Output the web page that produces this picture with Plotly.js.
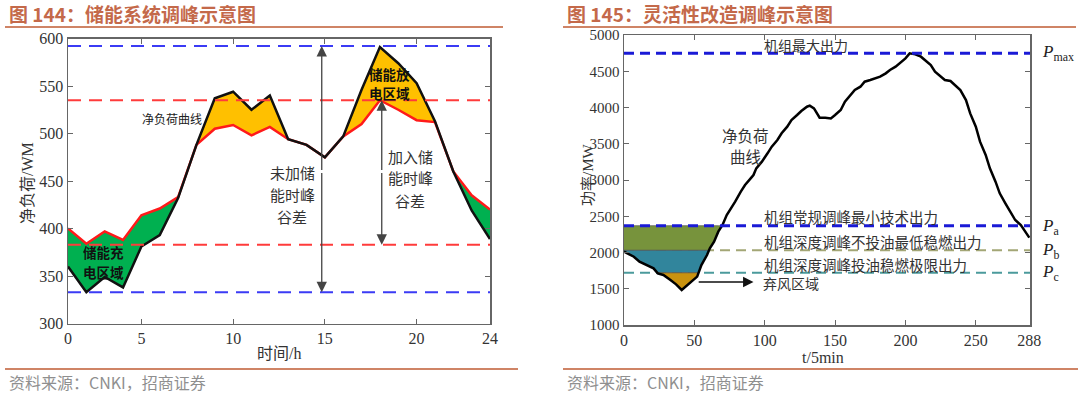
<!DOCTYPE html>
<html><head><meta charset="utf-8">
<script src="https://cdn.plot.ly/plotly-3.0.1.min.js"></script>
<style>html,body{margin:0;padding:0;background:#fff}#chart{width:1080px;height:393px}</style>
</head><body><div id="chart"></div>
<script>
// ---------- Figure 144 data (hourly) ----------
const hours = [1,2,3,4,5,6,7,8,9,10,11,12,13,14,15,16,17,18,19,20,21,22,23,24];
const hourTickVals = [1,5,10,15,20,24];
const hourTickText = ['0','5','10','15','20','24'];
const netLoad = [360,333,349,338,381,393,432,488,537,544,525,540,494,488,475,497,546,591,574,553,513,460,419,389];
const loadWithStorage = [400,384,397,388,414,421,433,488,505,509,498,507,494,488,475,497,510,535,525,514,512,460,435,420];
const peakNoStorage = 592, valleyNoStorage = 333;
const peakWithStorage = 535, valleyWithStorage = 383;

// ---------- Figure 145 data (5-min steps) ----------
const t5 = [0,7,11,16,21,24,28,33,37,41,45,48,52,55,59,61,64,67,70,73,77,79,83,86,90,92,94,98,102,105,109,112,116,119,123,126,130,132,135,137,139,143,147,150,154,157,161,164,168,171,175,179,182,186,189,193,196,200,203,207,211,214,218,221,225,228,232,235,239,243,246,250,253,257,260,264,267,271,275,278,282,285,288];
const netLoad2 = [2011,1942,1873,1827,1781,1712,1690,1620,1561,1483,1551,1597,1667,1827,1965,2057,2149,2287,2379,2517,2632,2701,2839,2931,3023,3069,3161,3253,3368,3460,3552,3644,3736,3828,3897,3952,4011,4025,3988,3920,3860,3860,3850,3896,3965,4080,4172,4241,4287,4356,4379,4402,4425,4471,4517,4563,4609,4678,4747,4733,4701,4655,4586,4494,4425,4379,4365,4310,4241,4103,3919,3736,3529,3345,3161,2977,2816,2678,2540,2448,2379,2287,2205];
const t5TickVals = [0,50,100,150,200,250,288];
const Pmax = 4750, Pa = 2370, Pb = 2030, Pc = 1720;

const CJK = 'Noto Sans CJK SC, sans-serif';
const SERIF = 'Liberation Serif, Noto Sans CJK SC, serif';

const traces = [];
// left: fill polygons between the two curves
function lrFill(a, b, color){
  const xs = hours.slice(a, b+1), up = netLoad.slice(a, b+1), lo = loadWithStorage.slice(a, b+1);
  traces.push({x: xs.concat(xs.slice().reverse()), y: up.concat(lo.slice().reverse()),
    xaxis:'x', yaxis:'y', mode:'lines', fill:'toself', fillcolor:color, line:{width:0}, hoverinfo:'skip'});
}
lrFill(0, 7, '#00b050');
lrFill(7, 21, '#ffc000');
lrFill(21, 23, '#00b050');
traces.push({x:hours, y:loadWithStorage, xaxis:'x', yaxis:'y', mode:'lines', line:{color:'#ff1a1a', width:2.5}});
traces.push({x:hours, y:netLoad, xaxis:'x', yaxis:'y', mode:'lines', line:{color:'#111', width:2.5}});

// right: band fills under thresholds (first dip of the curve)
function band(lo, hi, color){
  const xs = [], ys = [];
  for (let i = 0; i < t5.length; i++){
    if (i > 0){
      const q = netLoad2[i-1], p = netLoad2[i], cr = [];
      [hi, lo].forEach(l => { if (isFinite(l) && (q-l)*(p-l) < 0){ const f = (l-q)/(p-q); cr.push([f, t5[i-1]+f*(t5[i]-t5[i-1]), l]); } });
      cr.sort((a,b)=>a[0]-b[0]).forEach(c => { xs.push(c[1]); ys.push(c[2]); });
    }
    xs.push(t5[i]); ys.push(netLoad2[i]);
  }
  const px = [], py = [];
  for (let i = 0; i < xs.length; i++){
    if (ys[i] <= hi + 1e-6){ px.push(xs[i]); py.push(Math.max(ys[i], lo)); }
    else if (px.length) break;
  }
  traces.push({x: px.concat(px.slice().reverse()), y: py.concat(px.map(()=>hi)),
    xaxis:'x2', yaxis:'y2', mode:'lines', fill:'toself', fillcolor:color, line:{width:0.7, color:'#555'}, hoverinfo:'skip'});
}
band(Pb, Pa, '#77933c');
band(Pc, Pb, '#31859c');
band(-Infinity, Pc, '#c9920f');
traces.push({x:t5, y:netLoad2, xaxis:'x2', yaxis:'y2', mode:'lines', line:{color:'#000', width:2.5}});

function hline(xref, yref, y, color, width, dash, layer){
  return {type:'line', xref: xref+' domain', yref: yref, x0:0, x1:1, y0:y, y1:y, layer: layer||'above',
    line:{color:color, width:width, dash:dash}};
}
const shapes = [
  hline('x','y', peakNoStorage, '#3b3bf5', 2, '13px,8px'),
  hline('x','y', valleyNoStorage, '#3b3bf5', 2, '13px,8px'),
  hline('x','y', peakWithStorage, '#ff3b3b', 2, '13px,8px'),
  hline('x','y', valleyWithStorage, '#ff3b3b', 2, '13px,8px'),
  hline('x2','y2', Pmax, '#1a1ad6', 3, '10px,6px'),
  hline('x2','y2', Pa, '#1a1ad6', 3, '10px,6px'),
  hline('x2','y2', Pb, '#a3a676', 2, '10px,6px', 'below'),
  hline('x2','y2', Pc, '#4b9a9c', 2, '10px,6px', 'below'),
  // header / footer rules
  {type:'line', xref:'paper', yref:'paper', x0:5/1080, x1:503/1080, y0:1-27/393, y1:1-27/393, line:{color:'#cf8466', width:2}},
  {type:'line', xref:'paper', yref:'paper', x0:563/1080, x1:1076/1080, y0:1-27/393, y1:1-27/393, line:{color:'#cf8466', width:2}},
  {type:'line', xref:'paper', yref:'paper', x0:5/1080, x1:518/1080, y0:1-369/393, y1:1-369/393, line:{color:'#cf8466', width:2}},
  {type:'line', xref:'paper', yref:'paper', x0:563/1080, x1:1078/1080, y0:1-369/393, y1:1-369/393, line:{color:'#cf8466', width:2}}
];

function px2(x){ return x/1080; }
function py2(y){ return 1 - y/393; }
function ptext(x, y, text, opts){
  return Object.assign({xref:'paper', yref:'paper', x:px2(x), y:py2(y), text:text, showarrow:false,
    xanchor:'center', yanchor:'middle', font:{family:CJK, size:14, color:'#333'}}, opts||{});
}
function dtext(xa, ya, x, y, text, size, color, extra){
  return Object.assign({xref:xa, yref:ya, x:x, y:y, text:text, showarrow:false, xanchor:'center', yanchor:'middle',
    font:{family:CJK, size:size, color:color}}, extra||{});
}
function arrow(xa, ya, x, y, ax, ay, color){
  return {xref:xa, yref:ya, axref:xa, ayref:ya, x:x, y:y, ax:ax, ay:ay, text:'', showarrow:true,
    arrowhead:2, arrowsize:1.6, arrowwidth:1.3, arrowcolor:color||'#333', standoff:0, startstandoff:0};
}

const annotations = [
  ptext(7, 13, '<b>图 144：储能系统调峰示意图</b>', {xanchor:'left', font:{family:CJK, size:19, color:'#c4694a'}}),
  ptext(565, 13, '<b>图 145：灵活性改造调峰示意图</b>', {xanchor:'left', font:{family:CJK, size:19, color:'#c4694a'}}),
  ptext(7, 382, '资料来源：CNKI，招商证券', {xanchor:'left', font:{family:CJK, size:16, color:'#8f8f8f'}}),
  ptext(565, 382, '资料来源：CNKI，招商证券', {xanchor:'left', font:{family:CJK, size:16, color:'#8f8f8f'}}),
  // left axis titles
  ptext(27, 183, '净负荷/WM', {textangle:-90, font:{family:SERIF, size:16, color:'#333'}}),
  ptext(279, 353, '时间/h', {font:{family:SERIF, size:16, color:'#333'}}),
  // right axis titles
  ptext(588, 175, '功率/MW', {textangle:-90, font:{family:SERIF, size:15, color:'#333'}}),
  ptext(823, 357, 't/5min', {font:{family:SERIF, size:16, color:'#333'}}),
  // left chart labels
  dtext('x','y', 6.67, 516, '净负荷曲线', 12, '#222'),
  ptext(103, 252, '<b>储能充</b>', {font:{family:CJK, size:13.5, color:'#111'}}),
  ptext(103, 272, '<b>电区域</b>', {font:{family:CJK, size:13.5, color:'#111'}}),
  ptext(389, 74, '<b>储能放</b>', {font:{family:CJK, size:13.5, color:'#111'}}),
  ptext(389, 93, '<b>电区域</b>', {font:{family:CJK, size:13.5, color:'#111'}}),
  ptext(292, 172, '未加储', {font:{family:CJK, size:15, color:'#333'}}),
  ptext(292, 194, '能时峰', {font:{family:CJK, size:15, color:'#333'}}),
  ptext(292, 216, '谷差', {font:{family:CJK, size:15, color:'#333'}}),
  ptext(410, 157, '加入储', {font:{family:CJK, size:15, color:'#333'}}),
  ptext(410, 178, '能时峰', {font:{family:CJK, size:15, color:'#333'}}),
  ptext(410, 200, '谷差', {font:{family:CJK, size:15, color:'#333'}}),
  arrow('x','y', 14.83, peakNoStorage, 14.83, 460, '#444'),
  arrow('x','y', 14.83, valleyNoStorage, 14.83, 460, '#444'),
  arrow('x','y', 18.1, peakWithStorage, 18.1, 460, '#444'),
  arrow('x','y', 18.1, valleyWithStorage, 18.1, 460, '#444'),
  // right chart labels
  dtext('x2','y2', 98, 4862, '机组最大出力', 14, '#333', {xanchor:'left'}),
  ptext(745, 135, '净负荷', {font:{family:CJK, size:15.5, color:'#333'}}),
  ptext(745, 156, '曲线', {font:{family:CJK, size:15.5, color:'#333'}}),
  dtext('x2','y2', 98, 2503, '机组常规调峰最小技术出力', 14.5, '#333', {xanchor:'left'}),
  dtext('x2','y2', 98, 2145, '机组深度调峰不投油最低稳燃出力', 14.5, '#333', {xanchor:'left'}),
  dtext('x2','y2', 98, 1828, '机组深度调峰投油稳燃极限出力', 14.5, '#333', {xanchor:'left'}),
  dtext('x2','y2', 97, 1575, '弃风区域', 14, '#333', {xanchor:'left'}),
  arrow('x2','y2', 92, 1593, 52, 1593, '#111'),
  ptext(1040, 53, '<i>P</i><sub>max</sub>', {xanchor:'left', font:{family:SERIF, size:17, color:'#222'}}),
  ptext(1040, 227, '<i>P</i><sub>a</sub>', {xanchor:'left', font:{family:SERIF, size:17, color:'#222'}}),
  ptext(1040, 251, '<i>P</i><sub>b</sub>', {xanchor:'left', font:{family:SERIF, size:17, color:'#222'}}),
  ptext(1040, 273, '<i>P</i><sub>c</sub>', {xanchor:'left', font:{family:SERIF, size:17, color:'#222'}})
];

const axisCommon = {showline:true, linecolor:'#666', linewidth:1.5, mirror:'ticks', ticks:'inside', ticklen:5,
  tickcolor:'#666', showgrid:false, zeroline:false, fixedrange:true, tickfont:{family:SERIF, size:16, color:'#333'}};

const layout = {
  width:1080, height:393, margin:{l:0, r:0, t:0, b:0}, paper_bgcolor:'#fff', plot_bgcolor:'#fff', showlegend:false,
  xaxis: Object.assign({}, axisCommon, {domain:[68/1080, 490/1080], range:[1,24], tickvals:hourTickVals, ticktext:hourTickText, anchor:'y'}),
  yaxis: Object.assign({}, axisCommon, {domain:[69.5/393, 354.5/393], range:[300,600], dtick:50, anchor:'x'}),
  xaxis2: Object.assign({}, axisCommon, {domain:[624/1080, 1030/1080], range:[0,288.5], tickvals:t5TickVals, anchor:'y2'}),
  yaxis2: Object.assign({}, axisCommon, {domain:[68/393, 358/393], range:[1000,5000], dtick:500, anchor:'x2', tickfont:{family:SERIF, size:15, color:'#333'}}),
  shapes: shapes, annotations: annotations
};
Plotly.newPlot('chart', traces, layout, {displayModeBar:false, staticPlot:true});
</script></body></html>
